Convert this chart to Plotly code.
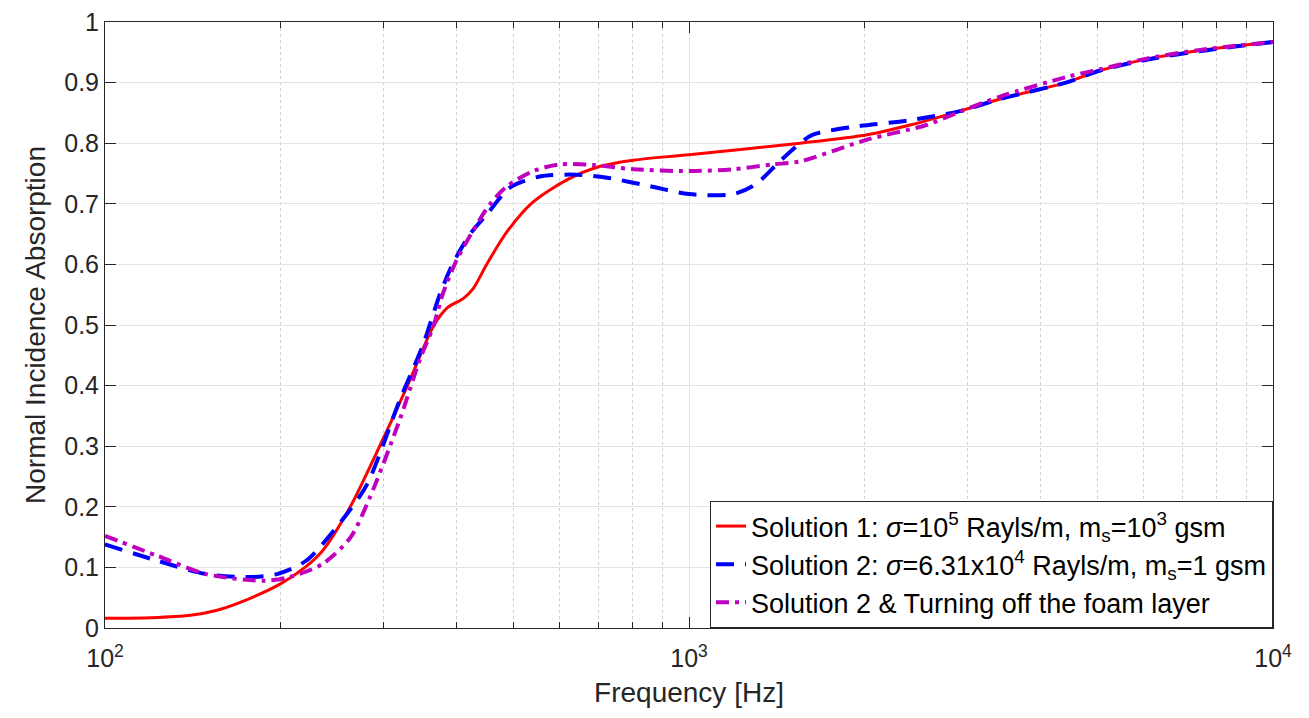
import plotly.graph_objects as go

# ---- data ----
f_sol1 = [100, 120, 140, 155, 170, 199, 220, 236, 263, 296, 333, 365, 385, 411, 427, 451, 488, 541, 619, 705, 803,
          1000, 1550, 2020, 2390, 2910, 3410, 4420, 5060, 6170, 7510, 10000]
a_sol1 = [0.016, 0.017, 0.021, 0.029, 0.042, 0.072, 0.10, 0.128, 0.20, 0.302, 0.41, 0.498, 0.528, 0.544, 0.56,
          0.601, 0.654, 0.703, 0.74, 0.762, 0.772, 0.781, 0.80, 0.814, 0.83, 0.853, 0.873, 0.90, 0.92, 0.94,
          0.953, 0.967]

f_sol2 = [100, 123, 149, 177, 197, 221, 259, 281, 320, 350, 375, 394, 422, 451, 494, 555, 643, 724, 858, 1000,
          1190, 1300, 1430, 1550, 1630, 1910, 2390, 2910, 3410, 4420, 5060, 6170, 7510, 10000]
a_sol2 = [0.138, 0.111, 0.089, 0.084, 0.089, 0.111, 0.187, 0.237, 0.377, 0.466, 0.552, 0.601, 0.65, 0.683, 0.727,
          0.745, 0.748, 0.743, 0.729, 0.716, 0.716, 0.732, 0.77, 0.80, 0.814, 0.827, 0.838, 0.853, 0.873, 0.90,
          0.92, 0.939, 0.952, 0.967]

f_sol2_nofoam = [100, 123, 149, 187, 207, 236, 263, 284, 320, 346, 365, 379, 400, 427, 456, 488, 541, 601, 685, 803,
                 1000, 1190, 1390, 1550, 2020, 2550, 2910, 3410, 4420, 5060, 6170, 7510, 10000]
a_sol2_nofoam = [0.152, 0.119, 0.089, 0.078, 0.084, 0.106, 0.149, 0.215, 0.345, 0.443, 0.498, 0.552, 0.607, 0.656,
                 0.699, 0.729, 0.754, 0.765, 0.764, 0.757, 0.754, 0.757, 0.765, 0.77, 0.806, 0.83, 0.852, 0.877,
                 0.909, 0.922, 0.941, 0.954, 0.967]

names = [
    "Solution 1: <i>σ</i>=10<sup>5</sup> Rayls/m, m<sub>s</sub>=10<sup>3</sup> gsm",
    "Solution 2: <i>σ</i>=6.31x10<sup>4</sup> Rayls/m, m<sub>s</sub>=1 gsm",
    "Solution 2 & Turning off the foam layer",
]

x_tickvals = [100, 1000, 10000]
x_ticktext = ["10<sup>2</sup>", "10<sup>3</sup>", "10<sup>4</sup>"]
x_minor = [200, 300, 400, 500, 600, 700, 800, 900, 2000, 3000, 4000, 5000, 6000, 7000, 8000, 9000]
y_tickvals = [0, 0.1, 0.2, 0.3, 0.4, 0.5, 0.6, 0.7, 0.8, 0.9, 1]
y_ticktext = ["0", "0.1", "0.2", "0.3", "0.4", "0.5", "0.6", "0.7", "0.8", "0.9", "1"]

FONT = "Liberation Sans, Arial, Helvetica, sans-serif"
TXT = "#262626"

fig = go.Figure()
fig.add_trace(go.Scatter(x=f_sol1, y=a_sol1, mode="lines", name=names[0], legendgroup="a",
                         line=dict(color="#ff0000", width=3, shape="spline", smoothing=0.8)))
fig.add_trace(go.Scatter(x=f_sol2, y=a_sol2, mode="lines", name=names[1], legendgroup="b",
                         line=dict(color="#0000ff", width=4, dash="18px,11px", shape="spline", smoothing=0.8)))
fig.add_trace(go.Scatter(x=f_sol2_nofoam, y=a_sol2_nofoam, mode="lines", name=names[2], legendgroup="c",
                         line=dict(color="#bf00bf", width=4, dash="13px,6px,4px,6px", shape="spline", smoothing=0.8)))

axis_common = dict(showline=True, linecolor=TXT, linewidth=1, mirror="ticks",
                   ticks="inside", ticklen=11, tickcolor=TXT, tickwidth=1,
                   tickfont=dict(size=25, color=TXT, family=FONT), ticklabeloverflow="allow",
                   gridcolor="#e3e3e3", gridwidth=1, zeroline=False)

fig.update_xaxes(type="log", range=[2, 4], tickmode="array", tickvals=x_tickvals, ticktext=x_ticktext,
                 ticklabelstandoff=8, automargin=False,
                 title=dict(text="Frequency [Hz]", font=dict(size=28, color=TXT, family=FONT), standoff=11),
                 minor=dict(tickmode="array", tickvals=x_minor, ticks="inside", ticklen=6, tickcolor=TXT,
                            showgrid=True, gridcolor="#cfcfcf", griddash="dot", gridwidth=1),
                 **axis_common)
fig.update_yaxes(range=[0, 1], tickmode="array", tickvals=y_tickvals, ticktext=y_ticktext,
                 automargin="left",
                 title=dict(text="Normal Incidence Absorption", font=dict(size=28, color=TXT, family=FONT),
                            standoff=10),
                 **axis_common)

# the page body adds an 8px margin, so the figure is sized to fit inside it
fig.update_layout(
    width=1293, height=702,
    margin=dict(l=97, r=28, t=14, b=82),
    plot_bgcolor="white", paper_bgcolor="white",
    font=dict(family=FONT, color="#000000"),
    legend=dict(x=1, y=0, xanchor="right", yanchor="bottom",
                bgcolor="white", bordercolor=TXT, borderwidth=1,
                font=dict(size=27, family=FONT, color="#000000"),
                traceorder="grouped", tracegroupgap=0),
)

fig.write_html("out.html")
